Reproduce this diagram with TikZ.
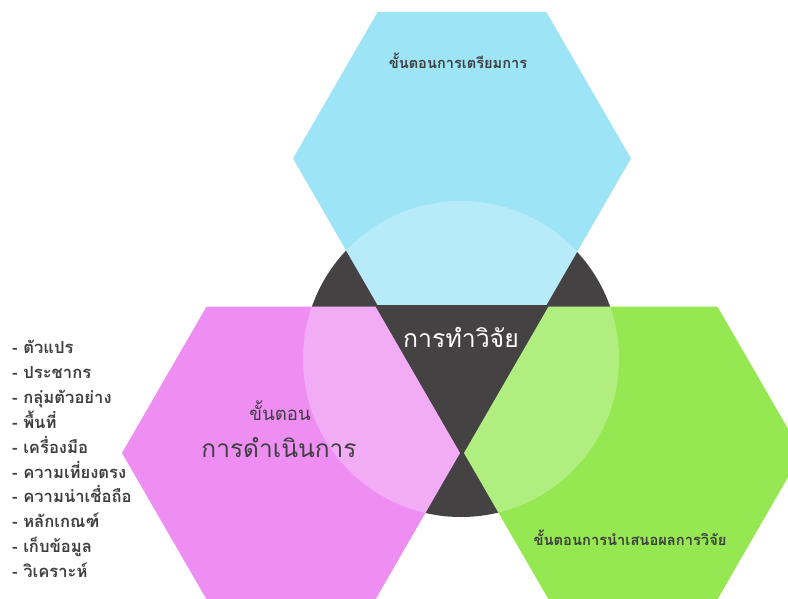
\documentclass[tikz,border=0pt]{standalone}
\usepackage{fontspec}
\newfontfamily\thaifont[Script=Thai]{Loma}
\definecolor{darkc}{HTML}{454244}
\definecolor{bluec}{HTML}{9EE4F7}
\definecolor{magc}{HTML}{EE8EF3}
\definecolor{greenc}{HTML}{95E851}
\definecolor{txtc}{HTML}{3F3F3F}
\tikzset{
  overlay light/.style={fill=white, opacity=0.27},
  labtxt/.style={inner sep=0pt, text=txtc},
}
\newcommand{\hexat}[2]{(#1)++(169,0) -- ++(-84.5,146.36) -- ++(-169,0) -- ++(-84.5,-146.36) -- ++(84.5,-146.36) -- ++(169,0) -- cycle}
\begin{document}
\begin{tikzpicture}[x=1pt,y=-1pt]
\useasboundingbox (0,0) rectangle (788,598);
\coordinate (cc) at (461,359);
\coordinate (hb) at (462,158.5);
\coordinate (hm) at (291,453);
\coordinate (hg) at (633,453);
% dark circle
\fill[darkc] (cc) circle (158);
% hexagons
\fill[bluec] \hexat{hb}{};
\fill[magc] \hexat{hm}{};
\fill[greenc] \hexat{hg}{};
% light overlays
\begin{scope}
  \clip \hexat{hb}{};
  \fill[overlay light] (cc) circle (158);
\end{scope}
\begin{scope}
  \clip \hexat{hm}{};
  \fill[overlay light] (cc) circle (158);
\end{scope}
\begin{scope}
  \clip \hexat{hg}{};
  \fill[overlay light] (cc) circle (158);
\end{scope}
% texts
\node[labtxt, font=\thaifont\bfseries\fontsize{14.6}{18}\selectfont] (tb) at (458,61) {ขั้นตอนการเตรียมการ};
\node[labtxt, font=\thaifont\bfseries\fontsize{14.7}{18}\selectfont] (tg) at (630,538) {ขั้นตอนการนำเสนอผลการวิจัย};
\node[labtxt, font=\thaifont\fontsize{18.6}{22}\selectfont] (tm1) at (280,411) {ขั้นตอน};
\node[labtxt, font=\thaifont\fontsize{24.5}{28}\selectfont] (tm2) at (279,448) {การดำเนินการ};
\node[inner sep=0pt, text=white, font=\thaifont\fontsize{24.8}{28}\selectfont] (tc) at (461,337) {การทำวิจัย};
\node[labtxt, anchor=north west, align=left, font=\thaifont\bfseries\fontsize{16.6}{24.9}\selectfont] (list) at (12,340)
 {- ตัวแปร\\- ประชากร\\- กลุ่มตัวอย่าง\\- พื้นที่\\- เครื่องมือ\\- ความเที่ยงตรง\\- ความน่าเชื่อถือ\\- หลักเกณฑ์\\- เก็บข้อมูล\\- วิเคราะห์};
\end{tikzpicture}
\end{document}
